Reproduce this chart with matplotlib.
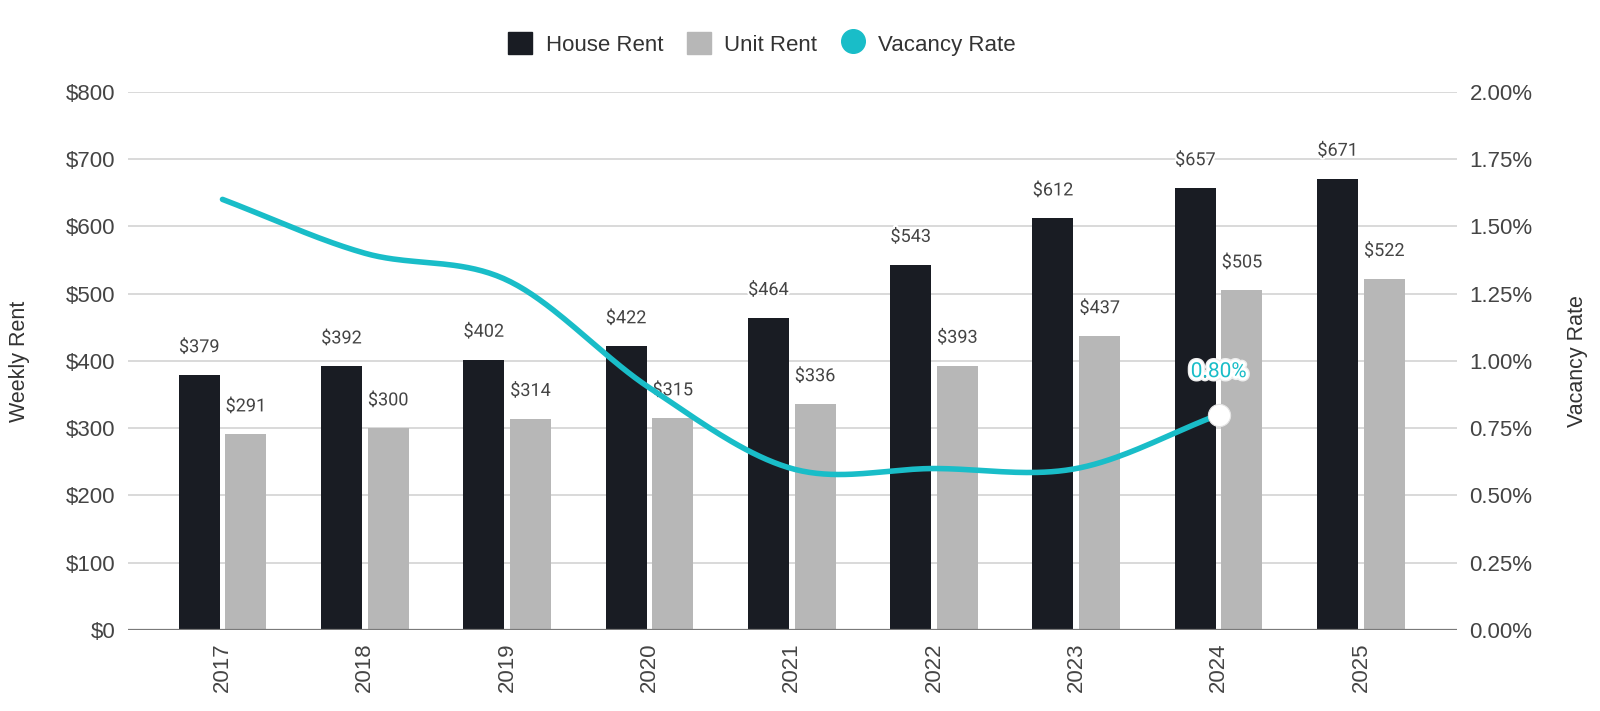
import numpy as np
import matplotlib
matplotlib.use("Agg")
import matplotlib.pyplot as plt
import matplotlib.patheffects as pe
from matplotlib.patches import Patch
from matplotlib.lines import Line2D

# data
years = ["2017", "2018", "2019", "2020", "2021", "2022", "2023", "2024", "2025"]
house_rent = [379, 392, 402, 422, 464, 543, 612, 657, 671]
unit_rent = [291, 300, 314, 315, 336, 393, 437, 505, 522]
vacancy_rate = [1.60, 1.40, 1.30, 0.90, 0.60, 0.60, 0.60, 0.80]  # no 2025 value

rent_ticks = [0, 100, 200, 300, 400, 500, 600, 700, 800]
rate_ticks = [0, 0.25, 0.5, 0.75, 1.0, 1.25, 1.5, 1.75, 2.0]

HOUSE_COLOR = "#191c23"
UNIT_COLOR = "#b7b7b7"
LINE_COLOR = "#19bdc8"
TEXT_COLOR = "#444444"
GRID_COLOR = "#d9d9d9"

TICK_FONT = "Liberation Sans"
LABEL_FONT = "Roboto"


def catmull_rom(xs, ys, steps=40):
    # smooth curve through the points, like the chart's "function" curve
    xs = np.asarray(xs, dtype=float)
    ys = np.asarray(ys, dtype=float)
    n = len(xs)
    m = np.zeros(n)
    for i in range(n):
        if i == 0:
            m[i] = ys[1] - ys[0]
        elif i == n - 1:
            m[i] = ys[-1] - ys[-2]
        else:
            m[i] = (ys[i + 1] - ys[i - 1]) / 2
    out_x, out_y = [], []
    for i in range(n - 1):
        t = np.linspace(0, 1, steps, endpoint=(i == n - 2))
        h00 = 2 * t ** 3 - 3 * t ** 2 + 1
        h10 = t ** 3 - 2 * t ** 2 + t
        h01 = -2 * t ** 3 + 3 * t ** 2
        h11 = t ** 3 - t ** 2
        out_x.extend(xs[i] + t * (xs[i + 1] - xs[i]))
        out_y.extend(h00 * ys[i] + h10 * m[i] + h01 * ys[i + 1] + h11 * m[i + 1])
    return np.array(out_x), np.array(out_y)


fig = plt.figure(figsize=(16, 7.11), dpi=100)
ax = fig.add_axes([0.08, 0.1139, 0.8306, 0.7571])
ax2 = ax.twinx()

x = np.arange(len(years))
bar_w = 0.288
offset = 0.164

ax.bar(x - offset, house_rent, width=bar_w, color=HOUSE_COLOR, zorder=2)
ax.bar(x + offset, unit_rent, width=bar_w, color=UNIT_COLOR, zorder=2)

halo = [pe.withStroke(linewidth=3, foreground="white")]
for xi, v in zip(x, house_rent):
    ax.annotate("$%d" % v, (xi - offset, v), xytext=(0, 20), textcoords="offset points",
                ha="center", va="center", fontsize=13, family=LABEL_FONT,
                color=TEXT_COLOR, path_effects=halo, zorder=5)
for xi, v in zip(x, unit_rent):
    ax.annotate("$%d" % v, (xi + offset, v), xytext=(0, 20), textcoords="offset points",
                ha="center", va="center", fontsize=13, family=LABEL_FONT,
                color=TEXT_COLOR, path_effects=halo, zorder=5)

ax.set_xlim(-0.664, 8.675)
ax.set_ylim(0, 800)
ax.set_yticks(rent_ticks)
ax.set_yticklabels(["$%d" % t for t in rent_ticks])
ax.set_xticks(x)
ax.set_xticklabels(years, rotation=90)
ax.grid(axis="y", color=GRID_COLOR, linewidth=1.4, zorder=0)
ax.set_axisbelow(True)
ax.axhline(0, color="#7a7a7a", linewidth=1.6, zorder=3)

ax.tick_params(axis="y", length=0, pad=9, labelsize=16, labelcolor=TEXT_COLOR)
ax.tick_params(axis="x", length=0, pad=9, labelsize=16, labelcolor=TEXT_COLOR)
for lab in ax.get_xticklabels() + ax.get_yticklabels():
    lab.set_family(TICK_FONT)

# vacancy rate line on the right axis
vx = x[:len(vacancy_rate)]
cx, cy = catmull_rom(vx, vacancy_rate)
ax2.plot(cx, cy, color=LINE_COLOR, linewidth=4, solid_capstyle="round", zorder=4)
ax2.plot(vx[-1], vacancy_rate[-1], "o", markersize=16, markerfacecolor="white",
         markeredgecolor="#e4e4e4", markeredgewidth=0.8, zorder=6)
ax2.annotate("%.2f%%" % vacancy_rate[-1], (vx[-1], vacancy_rate[-1]), xytext=(0, 31),
             textcoords="offset points", ha="center", va="center", fontsize=15,
             family=LABEL_FONT, color=LINE_COLOR,
             path_effects=[pe.withStroke(linewidth=6, foreground="#eeeeee"),
                           pe.withStroke(linewidth=4, foreground="white")], zorder=7)

ax2.set_ylim(0, 2.0)
ax2.set_yticks(rate_ticks)
ax2.set_yticklabels(["%.2f%%" % t for t in rate_ticks])
ax2.tick_params(axis="y", length=0, pad=9, labelsize=16, labelcolor=TEXT_COLOR)
for lab in ax2.get_yticklabels():
    lab.set_family(TICK_FONT)

for a in (ax, ax2):
    for s in a.spines.values():
        s.set_visible(False)
ax.set_zorder(ax2.get_zorder() - 1)
ax.patch.set_visible(False)

fig.text(20 / 1600, 0.492, "Weekly Rent", rotation=90, ha="center", va="center",
         fontsize=15.5, family=TICK_FONT, color="#333333")
fig.text(1577 / 1600, 0.492, "Vacancy Rate", rotation=90, ha="center", va="center",
         fontsize=15.5, family=TICK_FONT, color="#333333")

handles = [
    Patch(facecolor=HOUSE_COLOR, edgecolor=HOUSE_COLOR, label="House Rent"),
    Patch(facecolor=UNIT_COLOR, edgecolor=UNIT_COLOR, label="Unit Rent"),
    Line2D([], [], marker="o", linestyle="none", markersize=17,
           markerfacecolor=LINE_COLOR, markeredgecolor=LINE_COLOR, label="Vacancy Rate"),
]
leg = fig.legend(handles=handles, loc="center", bbox_to_anchor=(762 / 1600, 1 - 44 / 711),
                 ncol=3, frameon=False, handlelength=1.1, handleheight=1.1,
                 handletextpad=0.6, columnspacing=1.05,
                 prop={"family": TICK_FONT, "size": 16})
for t in leg.get_texts():
    t.set_color("#333333")

fig.savefig("out.png", dpi=100)
